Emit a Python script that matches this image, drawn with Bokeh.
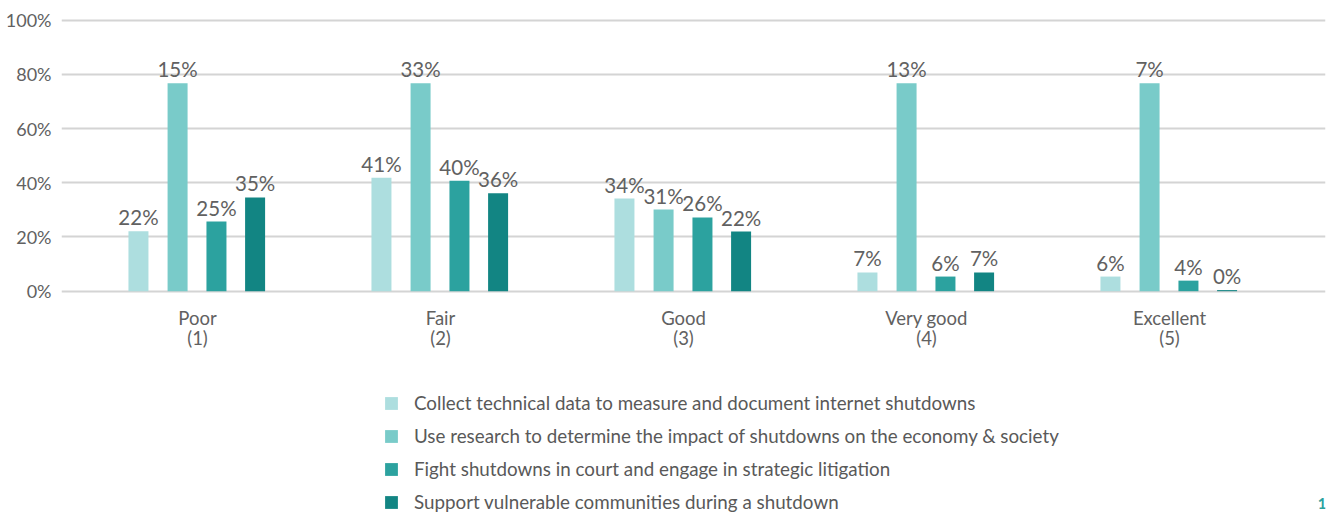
from bokeh.plotting import figure
from bokeh.models import ColumnDataSource, FixedTicker, Legend, LegendItem, Label, Range1d
from bokeh.core.properties import value
from bokeh.transform import dodge
from bokeh.embed import file_html
from bokeh.resources import INLINE

# ---- data ----
categories = ["Poor\n(1)", "Fair\n(2)", "Good\n(3)", "Very good\n(4)", "Excellent\n(5)"]
series_names = [
    "Collect technical data to measure and document internet shutdowns",
    "Use research to determine the impact of shutdowns on the economy & society",
    "Fight shutdowns in court and engage in strategic litigation",
    "Support vulnerable communities during a shutdown",
]
# printed labels (%)
collect_data = [22, 41, 34, 7, 6]
use_research = [15, 33, 31, 13, 7]
fight_court = [25, 40, 26, 6, 4]
support_comm = [35, 36, 22, 7, 0]
# bar heights as drawn in the chart (%)
collect_data_bar = [22.1, 41.9, 34.2, 6.9, 5.4]
use_research_bar = [76.7, 76.7, 30.1, 76.7, 76.7]
fight_court_bar = [25.7, 40.8, 27.2, 5.4, 3.9]
support_comm_bar = [34.6, 36.1, 22.0, 6.9, 0.4]
y_ticks = [0, 20, 40, 60, 80, 100]
y_tick_labels = ["0%", "20%", "40%", "60%", "80%", "100%"]
page_number = "1"

colors = ["#ADDEDF", "#79CBC9", "#2CA29F", "#128583"]
offsets = [-0.243, -0.082, 0.078, 0.237]
bar_width = 0.0823

pos = list(range(len(categories)))
labels_all = [collect_data, use_research, fight_court, support_comm]
bars_all = [collect_data_bar, use_research_bar, fight_court_bar, support_comm_bar]

FONT = "Lato"
TXT = "#616161"

p = figure(width=1328, height=512, output_backend="svg", toolbar_location=None,
           x_range=Range1d(-0.5597, 4.642), y_range=Range1d(-81.66, 102.1),
           min_border_left=61, min_border_right=3, min_border_top=14, min_border_bottom=0)
p.outline_line_color = None
p.background_fill_color = "white"
p.border_fill_color = "white"

items = []
for i in range(4):
    src = ColumnDataSource(dict(
        pos=pos,
        bar=bars_all[i],
        label=[f"{v}%" for v in labels_all[i]],
    ))
    r = p.vbar(x=dodge("pos", offsets[i]), top="bar", bottom=0, width=bar_width,
               source=src, fill_color=colors[i], line_color=None)
    p.text(x=dodge("pos", offsets[i]), y="bar", text="label", source=src,
           text_align="center", text_baseline="alphabetic", y_offset=-14,
           text_font=value(FONT), text_font_size="20.5px", text_color=TXT)
    items.append(LegendItem(label=series_names[i], renderers=[r]))

# axes
p.xaxis.fixed_location = 0
p.xaxis.ticker = FixedTicker(ticks=pos)
p.xaxis.major_label_overrides = {i: c for i, c in enumerate(categories)}
p.xaxis.axis_line_color = None
p.xaxis.major_tick_line_color = None
p.xaxis.minor_tick_line_color = None
p.xaxis.major_label_text_font = FONT
p.xaxis.major_label_text_font_size = "18.5px"
p.xaxis.major_label_text_line_height = 0.9
p.xaxis.major_label_text_color = TXT
p.xaxis.major_label_standoff = 10

p.yaxis.ticker = FixedTicker(ticks=y_ticks)
p.yaxis.major_label_overrides = {t: l for t, l in zip(y_ticks, y_tick_labels)}
p.yaxis.axis_line_color = None
p.yaxis.major_tick_line_color = None
p.yaxis.minor_tick_line_color = None
p.yaxis.major_label_text_font = FONT
p.yaxis.major_label_text_font_size = "18px"
p.yaxis.major_label_text_color = TXT
p.yaxis.major_label_standoff = 4

p.xgrid.grid_line_color = None
p.ygrid.ticker = FixedTicker(ticks=y_ticks)
p.ygrid.grid_line_color = "#d4d4d4"
p.ygrid.grid_line_width = 2

legend = Legend(items=items, orientation="vertical", location=(322, -1),
                glyph_width=16, glyph_height=16, label_standoff=15,
                label_height=16, spacing=10, padding=0, margin=0,
                label_text_font=FONT, label_text_font_size="18.8px",
                label_text_color="#595959", border_line_color=None,
                background_fill_alpha=0)
p.add_layout(legend, "center")

p.add_layout(Label(x=1265, y=4, x_units="screen", y_units="screen", text=page_number,
                   text_align="right", text_font=FONT, text_font_size="15px",
                   text_font_style="bold", text_color="#2CA29F"))

open("out.html", "w").write(file_html(p, INLINE))
